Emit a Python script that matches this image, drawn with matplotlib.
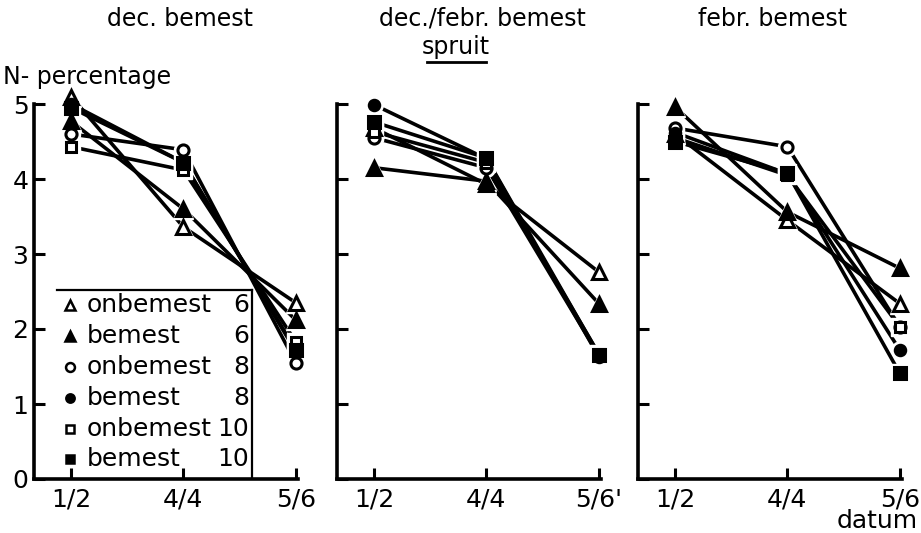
import matplotlib
matplotlib.use("Agg")
import matplotlib.pyplot as plt
from matplotlib.lines import Line2D

# N-percentage of sprouts per sampling date, three fertilisation times
dates = ["1/2", "4/4", "5/6"]
dates_mid = ["1/2", "4/4", "5/6'"]
titles = ["dec. bemest", "dec./febr. bemest", "febr. bemest"]

series_names = ["onbemest", "bemest", "onbemest", "bemest", "onbemest", "bemest"]
series_numbers = ["6", "6", "8", "8", "10", "10"]

# dec. bemest
dec_onb6 = [5.10, 3.36, 2.35]
dec_bem6 = [4.77, 3.60, 2.12]
dec_onb8 = [4.60, 4.39, 1.55]
dec_bem8 = [5.00, 4.22, 1.70]
dec_onb10 = [4.43, 4.12, 1.83]
dec_bem10 = [4.95, 4.22, 1.72]

# dec./febr. bemest
decfeb_onb6 = [4.68, 3.93, 2.76]
decfeb_bem6 = [4.15, 3.97, 2.34]
decfeb_onb8 = [4.55, 4.15, 1.65]
decfeb_bem8 = [4.99, 4.27, 1.63]
decfeb_onb10 = [4.63, 4.22, 1.67]
decfeb_bem10 = [4.76, 4.28, 1.66]

# febr. bemest
feb_onb6 = [4.60, 3.45, 2.34]
feb_bem6 = [4.96, 3.56, 2.81]
feb_onb8 = [4.68, 4.43, 2.03]
feb_bem8 = [4.62, 4.07, 1.72]
feb_onb10 = [4.55, 4.05, 2.03]
feb_bem10 = [4.50, 4.08, 1.41]

panels = [
    [dec_onb6, dec_bem6, dec_onb8, dec_bem8, dec_onb10, dec_bem10],
    [decfeb_onb6, decfeb_bem6, decfeb_onb8, decfeb_bem8, decfeb_onb10, decfeb_bem10],
    [feb_onb6, feb_bem6, feb_onb8, feb_bem8, feb_onb10, feb_bem10],
]

# marker, filled?, size
styles = [("^", False, 9.5), ("^", True, 9.5), ("o", False, 8),
          ("o", True, 7.5), ("s", False, 7.5), ("s", True, 8)]

plt.rcParams["font.family"] = ["DejaVu Sans"]
FS = 18

W, H = 921, 533
fig = plt.figure(figsize=(W / 100, H / 100), dpi=100)

lefts = [34, 337, 638]
ax_w = 264
y0_px, y5_px = 479, 104

axes = []
for i, left in enumerate(lefts):
    ax = fig.add_axes([left / W, (H - y0_px) / H, ax_w / W, (y0_px - y5_px) / H])
    axes.append(ax)
    x = list(range(len(dates)))
    for vals, (m, filled, ms) in zip(panels[i], styles):
        ax.plot(x, vals, color="black", lw=2.6, solid_capstyle="butt",
                zorder=2, clip_on=False)
        # white halo keeps a small gap between line ends and markers
        ax.plot(x, vals, ls="none", marker=m, ms=ms + 5, color="white",
                mec="white", zorder=3, clip_on=False)
        ax.plot(x, vals, ls="none", marker=m, ms=ms,
                mfc="black" if filled else "white", mec="black", mew=2.2,
                zorder=4, clip_on=False)

    ax.set_xlim(-0.33, 2.02)
    ax.set_ylim(0, 5)
    ax.set_xticks(x)
    ax.set_xticklabels(dates_mid if i == 1 else dates, fontsize=FS)
    ax.set_yticks(range(6))
    if i == 0:
        ax.set_yticklabels([str(v) for v in range(6)], fontsize=FS)
    else:
        ax.set_yticklabels([])
    ax.tick_params(direction="in", length=8, width=2.2, pad=4)
    ax.tick_params(axis="x", pad=6)
    for side in ["top", "right"]:
        ax.spines[side].set_visible(False)
    for side in ["left", "bottom"]:
        ax.spines[side].set_linewidth(2.6)
    ax.patch.set_visible(False)

# legend box in the first panel (top and right edges only)
ax = axes[0]
row_y = [0.464, 0.381, 0.299, 0.216, 0.133, 0.053]
for yy, name, num, (m, filled, ms) in zip(row_y, series_names, series_numbers, styles):
    ax.plot([0.135], [yy], transform=ax.transAxes, ls="none", marker=m,
            ms=ms * 0.8, mfc="black" if filled else "white", mec="black",
            mew=1.8, clip_on=False, zorder=6)
    ax.text(0.20, yy, name, transform=ax.transAxes, fontsize=FS,
            va="center", ha="left", zorder=6)
    ax.text(0.815, yy, num, transform=ax.transAxes, fontsize=FS,
            va="center", ha="right", zorder=6)
ax.add_line(Line2D([0.087, 0.827], [0.504, 0.504], transform=ax.transAxes,
                   color="black", lw=1.6, zorder=5))
ax.add_line(Line2D([0.827, 0.827], [0.0, 0.504], transform=ax.transAxes,
                   color="black", lw=1.6, zorder=5))

# titles and axis captions
title_x = [180, 482, 773]
for tx, t in zip(title_x, titles):
    fig.text(tx / W, 1 - 19 / H, t, fontsize=17, ha="center", va="center")
fig.text(456 / W, 1 - 47 / H, "spruit", fontsize=17, ha="center", va="center")
fig.add_artist(Line2D([427 / W, 486 / W], [1 - 62 / H, 1 - 62 / H],
                      color="black", lw=2))
fig.text(3 / W, 1 - 77 / H, "N- percentage", fontsize=17, ha="left", va="center")
fig.text(918 / W, 1 - 521 / H, "datum", fontsize=FS, ha="right", va="center")

fig.savefig("out.png", dpi=100)
